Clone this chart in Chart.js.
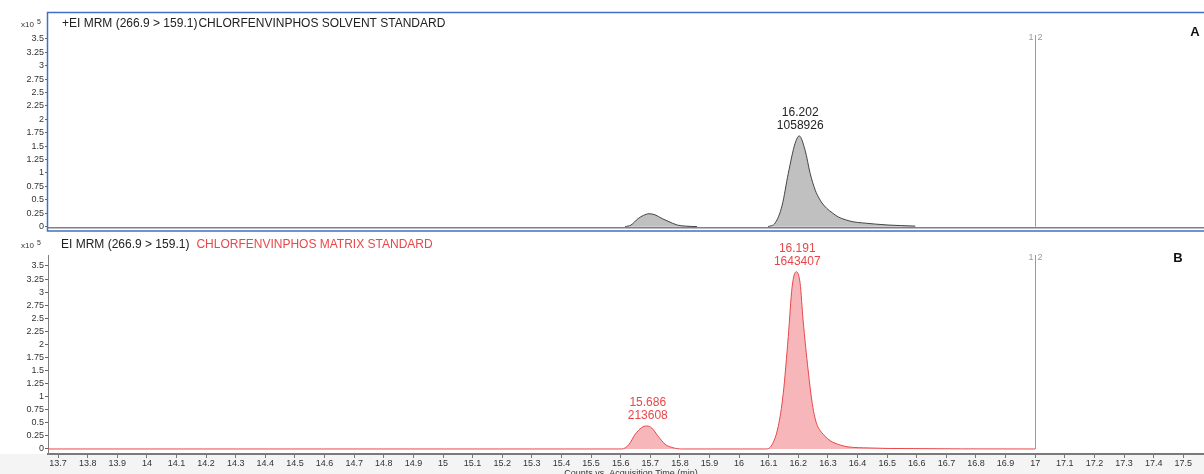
<!DOCTYPE html>
<html>
<head>
<meta charset="utf-8">
<script src="https://cdn.jsdelivr.net/npm/chart.js@4"></script>
<style>
  html, body { margin: 0; padding: 0; background: #ffffff; }
  #wrap { position: relative; width: 1204px; height: 474px; overflow: hidden; }
  canvas { position: absolute; left: 0; }
</style>
</head>
<body>
<div id="wrap">
  <canvas id="chartA" width="1204" height="234" style="top:0;width:1204px;height:234px"></canvas>
  <canvas id="chartB" width="1204" height="240" style="top:234px;width:1204px;height:240px"></canvas>
</div>
<script>
// Panel A: solvent standard (counts in x10^5), null = no trace between the two windows
const timesA = [15.615, 15.635, 15.659, 15.677, 15.696, 15.716, 15.740, 15.760, 15.791, 15.818, 15.858,
  15.95,
  16.098, 16.122, 16.145, 16.166, 16.189, 16.203, 16.223, 16.240, 16.257, 16.270, 16.280, 16.296,
  16.314, 16.335, 16.358, 16.385, 16.416, 16.503, 16.595];
const countsA = [0, 0.03, 0.15, 0.21, 0.24, 0.22, 0.15, 0.10, 0.03, 0.01, 0,
  null,
  0, 0.07, 0.39, 0.99, 1.55, 1.69, 1.42, 0.99, 0.68, 0.53, 0.44, 0.34,
  0.26, 0.18, 0.13, 0.09, 0.07, 0.03, 0.01];

// Panel B: matrix standard (counts in x10^5)
const timesB = [13.666, 15.604, 15.627, 15.649, 15.671, 15.688, 15.705, 15.727, 15.750, 15.773, 15.806,
  16.088, 16.111, 16.132, 16.149, 16.166, 16.179, 16.193, 16.206, 16.216, 16.233, 16.247, 16.256,
  16.264, 16.278, 16.291, 16.307, 16.324, 16.345, 16.368, 16.436, 16.503, 17.0];
const countsB = [0, 0, 0.08, 0.28, 0.41, 0.44, 0.40, 0.24, 0.09, 0.03, 0,
  0, 0.08, 0.43, 1.06, 2.15, 3.10, 3.39, 3.17, 2.47, 1.51, 0.87, 0.60,
  0.45, 0.32, 0.24, 0.16, 0.11, 0.07, 0.04, 0.02, 0.01, 0];

// Peak labels (retention time / area)
const peakRtA = ["16.202"];
const peakAreaA = ["1058926"];
const peakRtB = ["15.686", "16.191"];
const peakAreaB = ["213608", "1643407"];

const titleA = ["+EI MRM (266.9 > 159.1)", "CHLORFENVINPHOS SOLVENT STANDARD"];
const titleB = ["EI MRM (266.9 > 159.1)", "CHLORFENVINPHOS MATRIX STANDARD"];
const xTitle = "Counts vs. Acquisition Time (min)";
const segmentTime = 17.0;

const FONT = "'Liberation Sans', Arial, sans-serif";
const RED = "#e8474a";

function toPoints(xs, ys) {
  return xs.map((x, i) => ({ x: x, y: ys[i] }));
}

function fmt(v, d) {
  return String(Number(v.toFixed(d)));
}

// draws titles, peak labels, the 1|2 segment line and panel letter
function panelPlugin(cfg) {
  return {
    id: "panel" + cfg.letter,
    afterDatasetsDraw(chart) {
      const ctx = chart.ctx;
      const xs = chart.scales.x;
      const ys = chart.scales.y;
      ctx.save();

      // segment line at 17 min
      const sx = Math.round(xs.getPixelForValue(segmentTime)) + 0.5;
      ctx.strokeStyle = "#9a9a9a";
      ctx.lineWidth = 1;
      ctx.beginPath();
      ctx.moveTo(sx, cfg.segTop);
      ctx.lineTo(sx, ys.getPixelForValue(0));
      ctx.stroke();
      ctx.fillStyle = "#9a9a9a";
      ctx.font = "9px " + FONT;
      ctx.textBaseline = "middle";
      ctx.textAlign = "right";
      ctx.fillText("1", sx - 2, cfg.segTop + 3);
      ctx.textAlign = "left";
      ctx.fillText("2", sx + 2, cfg.segTop + 3);

      // peak labels
      const data = chart.data.datasets[0].data;
      ctx.font = "12px " + FONT;
      ctx.textAlign = "center";
      ctx.fillStyle = cfg.labelColor;
      cfg.rts.forEach((rt, i) => {
        let best = null;
        data.forEach((p) => {
          if (p.y !== null && Math.abs(p.x - Number(rt)) < 0.05 && (!best || p.y > best.y)) best = p;
        });
        if (!best) return;
        const px = xs.getPixelForValue(best.x) + 1;
        const py = ys.getPixelForValue(best.y);
        ctx.fillText(rt, px, py - 23);
        ctx.fillText(cfg.areas[i], px, py - 10);
      });

      // title
      ctx.textAlign = "left";
      ctx.font = "12px " + FONT;
      ctx.fillStyle = "#222222";
      ctx.fillText(cfg.title[0], cfg.titleX, cfg.titleY);
      const w = ctx.measureText(cfg.title[0]).width;
      ctx.fillStyle = cfg.title2Color;
      ctx.fillText(cfg.title[1], cfg.titleX + w + cfg.titleGap, cfg.titleY);

      // x10^5
      ctx.fillStyle = "#333333";
      ctx.font = "8px " + FONT;
      ctx.fillText("x10", 21, cfg.titleY + 1);
      ctx.font = "7px " + FONT;
      ctx.fillText("5", 37, cfg.titleY - 2);

      // panel letter
      ctx.fillStyle = "#111111";
      ctx.font = "bold 13px " + FONT;
      ctx.textAlign = "center";
      ctx.fillText(cfg.letter, cfg.letterX, cfg.letterY);

      if (cfg.frame) {
        ctx.strokeStyle = "#3f6fc6";
        ctx.lineWidth = 1.5;
        ctx.strokeRect(47.5, 12.5, 1170, 218.5);
      }
      if (cfg.xTitle) {
        ctx.fillStyle = "#333333";
        ctx.font = "9px " + FONT;
        ctx.textAlign = "center";
        ctx.textBaseline = "alphabetic";
        ctx.fillText(cfg.xTitle, 631, 241.5);
      }
      ctx.restore();
    }
  };
}

const stripPlugin = {
  id: "strip",
  beforeDraw(chart) {
    const ctx = chart.ctx;
    ctx.save();
    ctx.fillStyle = "#f4f4f4";
    ctx.fillRect(0, chart.chartArea.bottom, chart.width, chart.height - chart.chartArea.bottom);
    ctx.restore();
  }
};

function yAxis(min, max, showBorder) {
  return {
    type: "linear",
    min: min,
    max: max,
    afterFit: (s) => { s.width = 48; },
    afterBuildTicks: (s) => { s.ticks = s.ticks.filter((t) => t.value >= 0 && t.value <= 3.5); },
    ticks: {
      stepSize: 0.25,
      includeBounds: false,
      padding: 1,
      color: "#333333",
      font: { family: FONT, size: 9 },
      callback: (v) => fmt(v, 2)
    },
    grid: { drawOnChartArea: false, drawTicks: true, tickLength: 3, color: "#666666" },
    border: { display: showBorder, color: "#808080", width: 1 }
  };
}

const xMin = 13.666;
const xMax = 17.57;

new Chart(document.getElementById("chartA"), {
  type: "line",
  data: {
    datasets: [{
      data: toPoints(timesA, countsA),
      borderColor: "#444444",
      backgroundColor: "#c0c0c0",
      borderWidth: 1,
      pointRadius: 0,
      fill: "origin",
      spanGaps: false,
      cubicInterpolationMode: "monotone"
    }]
  },
  options: {
    responsive: false,
    animation: false,
    layout: { padding: { top: 13, right: 0, bottom: 0, left: 0 } },
    plugins: { legend: { display: false }, tooltip: { enabled: false } },
    scales: {
      x: {
        type: "linear",
        min: xMin,
        max: xMax,
        afterFit: (s) => { s.height = 4; },
        ticks: { display: false },
        grid: { drawOnChartArea: false, drawTicks: false },
        border: { color: "#808080", width: 1.5 }
      },
      y: yAxis(-0.018, 3.98, false)
    }
  },
  plugins: [panelPlugin({
    letter: "A", letterX: 1195, letterY: 32, segTop: 35,
    rts: peakRtA, areas: peakAreaA, labelColor: "#222222",
    title: titleA, title2Color: "#222222", titleX: 62, titleY: 24, titleGap: 1,
    frame: true
  })]
});

new Chart(document.getElementById("chartB"), {
  type: "line",
  data: {
    datasets: [{
      data: toPoints(timesB, countsB),
      borderColor: RED,
      backgroundColor: "rgba(240, 110, 115, 0.5)",
      borderWidth: 1,
      pointRadius: 0,
      fill: "origin",
      cubicInterpolationMode: "monotone"
    }]
  },
  options: {
    responsive: false,
    animation: false,
    layout: { padding: { top: 21, right: 0, bottom: 0, left: 0 } },
    plugins: { legend: { display: false }, tooltip: { enabled: false } },
    scales: {
      x: {
        type: "linear",
        min: xMin,
        max: xMax,
        afterFit: (s) => { s.height = 20; },
        ticks: {
          stepSize: 0.1,
          includeBounds: false,
          autoSkip: false,
          maxRotation: 0,
          padding: 0,
          color: "#333333",
          font: { family: FONT, size: 9 },
          callback: (v) => fmt(v, 1)
        },
        grid: { drawOnChartArea: false, drawTicks: true, tickLength: 4, color: "#777777" },
        border: { color: "#7a7a7a", width: 2 }
      },
      y: yAxis(-0.096, 3.71, true)
    }
  },
  plugins: [stripPlugin, panelPlugin({
    letter: "B", letterX: 1178, letterY: 24, segTop: 21,
    rts: peakRtB, areas: peakAreaB, labelColor: RED,
    title: titleB, title2Color: RED, titleX: 61, titleY: 11, titleGap: 7,
    frame: false, xTitle: xTitle
  })]
});
</script>
</body>
</html>
